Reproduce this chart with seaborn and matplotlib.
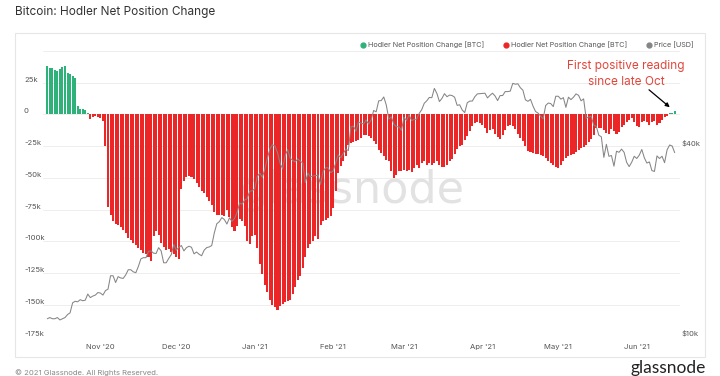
import numpy as np
import pandas as pd
import seaborn as sns
import matplotlib.pyplot as plt
import matplotlib.dates as mdates
from matplotlib.lines import Line2D
from matplotlib.patches import Rectangle

# daily values, starting 2020-10-11
start_date = "2020-10-11"

# hodler net position change, thousands of BTC
net_position_k = [
    38, 37, 36.5, 35, 34.5, 36, 37.5, 38.5, 32.5, 32, 30.5, 28.5, 6.5, 4, 4.2, 3.2, 1.5,
    -3.5, -2, -1.5, -2, -2.5, -5, -25,
    -73, -79, -84, -86, -87, -89, -91, -93, -97, -99, -101, -103, -105, -107, -109, -110, -112, -115,
    -96, -92, -95, -101, -104, -107, -106, -108, -110, -112, -114,
    -59, -52, -49, -48.7, -49, -51, -54, -57, -60, -62, -65, -68, -71, -77, -79, -79, -79, -80,
    -75, -81, -89, -92, -88, -82, -84, -88, -100, -102, -96, -95, -105, -118, -126, -134, -140,
    -146, -150, -152, -154, -151, -149, -148, -147, -146, -141, -136, -130,
    -127, -121, -112, -105, -102, -100, -96, -98, -87, -84, -83, -81.6, -80, -73.7, -60.5, -46,
    -40.8, -36.8, -33, -23.7, -22.4, -21.6, -21, -19.7, -18.4, -16.3, -15.8, -17.1, -18.4, -20.5,
    -23.2, -27.6, -30.3, -33, -35.5, -36.8, -44.7, -50, -47.4, -44.7, -44.2, -43.4, -44.7, -43.4,
    -45.3, -42.1, -39.5, -42.1, -38.2, -36.8, -39.5,
    -38, -39.5, -38, -37, -39.5, -41.5, -41, -39.5, -37, -35, -31, -27, -25, -24, -20, -17, -13,
    -9, -7, -5.8, -6.6, -8, -10.5, -14.5, -12, -11.8, -15, -18, -19, -16, -12.5, -9, -8, -9,
    -11.5, -15, -18.5, -20.5, -25, -28.5, -29.5, -30.5, -31, -31.5, -32, -33, -34.5, -36.5, -38,
    -39.5, -41, -42,
    -40, -37, -34.5, -33, -32, -31, -29.5, -28, -26.5, -25.5, -24, -22, -19, -15.8, -11, -10.5,
    -11, -12, -14.5, -15.3, -11.5, -13, -15, -14, -10, -8, -6, -4, -2.6, -5.8, -9, -10, -6, -5,
    -6, -8, -6, -5.3, -7.9, -6.6, -4, -2, -1, 0.8, 0.8, 2.5,
]

# BTC price, thousands of USD
price_k = [
    11.4, 11.5, 11.4, 11.4, 11.5, 11.3, 11.4, 11.5, 11.75, 11.9, 12.8, 12.95, 12.9, 13.1, 13.0,
    13.05, 13.65, 13.3, 13.45, 13.55, 13.8,
    13.75, 13.55, 14.0, 14.15, 15.6, 15.6, 14.85, 15.5, 15.35, 15.3, 15.7, 16.3, 16.3, 16.05,
    15.95, 16.7, 17.65, 17.8, 17.8, 18.65, 18.7, 18.4, 18.35, 19.15, 18.7, 17.15, 17.15, 17.7,
    18.2, 19.6,
    18.8, 19.2, 19.45, 18.7, 19.15, 19.35, 19.2, 18.3, 18.55, 18.25, 18.05, 18.8, 19.15, 19.25,
    19.45, 21.3, 22.8, 23.15, 23.85, 23.5, 22.75, 23.8, 23.2, 23.7, 24.7, 26.5, 26.3, 27.1,
    27.4, 28.9, 29.0,
    29.4, 32.2, 33.0, 32.0, 34.0, 36.8, 39.4, 40.6, 40.2, 38.3, 35.5, 34.0, 37.4, 39.2, 36.8,
    36.2, 35.8, 36.6, 36.0, 35.5, 30.8, 33.0, 32.1, 32.3, 32.4, 32.5, 30.4, 33.4, 34.3, 34.3,
    33.1,
    33.5, 35.5, 37.7, 36.9, 38.1, 39.3, 38.9, 46.2, 46.5, 44.8, 47.9, 47.5, 47.2, 48.6, 47.2,
    48.6, 52.1, 51.6, 55.9, 56.0, 57.5, 54.2, 48.9, 49.7, 47.1, 46.3, 46.2, 45.1,
    49.6, 48.4, 50.5, 48.4, 48.8, 48.9, 51.0, 52.4, 54.9, 55.9, 57.3, 57.2, 61.2, 59.0, 55.6,
    56.9, 58.9, 57.6, 58.3, 58.1, 57.4, 54.1, 54.3, 52.3, 51.3, 55.1, 55.8, 55.8, 57.6, 58.8,
    58.9,
    59.0, 59.1, 57.1, 58.2, 59.1, 57.9, 56.0, 58.1, 58.1, 59.8, 59.8, 60.0, 63.5, 63.1, 63.3,
    61.5, 60.4, 56.3, 55.7, 56.5, 53.8, 51.7, 51.1, 50.0, 49.0, 54.0, 55.0, 54.8, 53.6, 57.8,
    57.8, 56.6, 57.2, 53.3, 57.4, 56.4, 57.4, 58.8, 58.2, 55.9, 56.7, 49.2, 49.7, 49.9, 46.8,
    46.4, 43.5, 43.0, 37.0, 40.7, 37.3, 37.5, 34.7, 38.7, 38.4, 39.3, 38.4, 35.7, 34.6, 35.7,
    37.3,
    36.7, 37.6, 39.2, 36.9, 35.5, 35.8, 33.6, 33.4, 37.4, 36.7, 37.3, 35.6, 39.1, 40.5, 40.2,
    38.3,
]

month_ticks = ["2020-11-01", "2020-12-01", "2021-01-01", "2021-02-01",
               "2021-03-01", "2021-04-01", "2021-05-01", "2021-06-01"]
month_labels = ["Nov '20", "Dec '20", "Jan '21", "Feb '21", "Mar '21", "Apr '21", "May '21", "Jun '21"]
left_ticks = [-175000, -150000, -125000, -100000, -75000, -50000, -25000, 0, 25000, 50000]
left_labels = ["-175k", "-150k", "-125k", "-100k", "-75k", "-50k", "-25k", "0", "25k", ""]
price_ticks = [10000, 40000]
price_labels = ["$10k", "$40k"]
legend_labels = ["Hodler Net Position Change [BTC]", "Hodler Net Position Change [BTC]", "Price [USD]"]

GREEN = "#2fb27a"
RED = "#ec2626"
GREY = "#858585"

dates = pd.date_range(start_date, periods=len(net_position_k), freq="D")
df = pd.DataFrame({
    "date": mdates.date2num(dates),
    "net": np.array(net_position_k) * 1000,
    "price": np.array(price_k) * 1000,
})
df["sign"] = np.where(df["net"] >= 0, "pos", "neg")
d0 = df["date"].iloc[0]

sns.set_style("white")
plt.rcParams["font.family"] = ["Inter", "DejaVu Sans"]

W, H = 720, 376
fig = plt.figure(figsize=(W / 100, H / 100), dpi=100)
ax = fig.add_axes([43 / W, 1 - 336.7 / H, 637 / W, (336.7 - 51) / H])

sns.barplot(data=df, x="date", y="net", hue="sign", palette={"pos": GREEN, "neg": RED},
            native_scale=True, dodge=False, width=0.8, saturation=1, errorbar=None,
            legend=False, linewidth=0, ax=ax)
ax.set_xlim(d0 - 1.7, d0 + 250.1)
ax.set_ylim(-175000, 50000)
ax.set_xlabel("")
ax.set_ylabel("")
ax.set_axisbelow(True)
ax.yaxis.grid(True, color="#ebebeb", lw=0.6)
ax.xaxis.grid(False)
ax.set_yticks(left_ticks, left_labels, ha="left", va="bottom")
ax.tick_params(axis="y", length=0, pad=13.7, labelsize=5.5, labelcolor="#555555")
ax.set_xticks(mdates.date2num(pd.to_datetime(month_ticks)), month_labels)
ax.tick_params(axis="x", length=0, pad=5, labelsize=5.5, labelcolor="#555555")
sns.despine(ax=ax, left=True, bottom=True)

# faint watermark behind the bars
ax.text(0.485, 0.468, "glassnode", transform=ax.transAxes, ha="center", va="baseline",
        fontsize=32, color="#e2e2e2", zorder=0.6, family="DejaVu Sans")

ax2 = ax.twinx()
sns.lineplot(x=df["date"], y=df["price"], ax=ax2, color=GREY, lw=0.75)
ax2.set_yscale("log")
ax2.set_ylim(10000, 10 ** 4.9053)
ax2.yaxis.set_minor_locator(plt.NullLocator())
ax2.set_yticks(price_ticks, price_labels, va="bottom")
ax2.tick_params(axis="y", length=0, pad=0.8, labelsize=5.5, labelcolor="#555555")
ax2.set_ylabel("")
ax2.set_xlim(d0 - 1.7, d0 + 250.1)
for s in ax2.spines.values():
    s.set_visible(False)

# annotation
ax2.text(d0 + 228.7, 10 ** (4 + (336.7 - 74) / 315.6), "First positive reading\nsince late Oct",
         ha="center", va="center", fontsize=8.5, color="#e2463b", linespacing=1.35)
ax2.annotate("", xy=(d0 + 246.9, 10 ** (4 + (336.7 - 109) / 315.6)),
             xytext=(d0 + 237, 10 ** (4 + (336.7 - 88) / 315.6)),
             arrowprops=dict(arrowstyle="-|>", color="black", lw=0.9, mutation_scale=6))

handles = [Line2D([], [], ls="", marker="o", markersize=3.5, color=c) for c in (GREEN, RED, GREY)]
fig.legend(handles, legend_labels, ncol=3, loc="center right", bbox_to_anchor=(700 / W, 1 - 45 / H),
           frameon=False, fontsize=5.2, handletextpad=0.3, columnspacing=2.6, handlelength=0.8,
           labelcolor="#555555")

fig.add_artist(Rectangle((15 / W, 1 - 357 / H), 690 / W, 324 / H, transform=fig.transFigure,
                         fill=False, edgecolor="#e6e6e6", lw=0.8))
fig.text(15 / W, 1 - 12 / H, "Bitcoin: Hodler Net Position Change", fontsize=8.5,
         color="#333333", va="center")
fig.text(15 / W, 1 - 369 / H, "© 2021 Glassnode. All Rights Reserved.", fontsize=5.5,
         color="#888888", va="top")
fig.text(706 / W, 1 - 375.5 / H, "glassnode", fontsize=12.5, color="#222222", ha="right",
         va="bottom", family=["Lato", "DejaVu Sans"])

fig.savefig("out.png", dpi=100)
